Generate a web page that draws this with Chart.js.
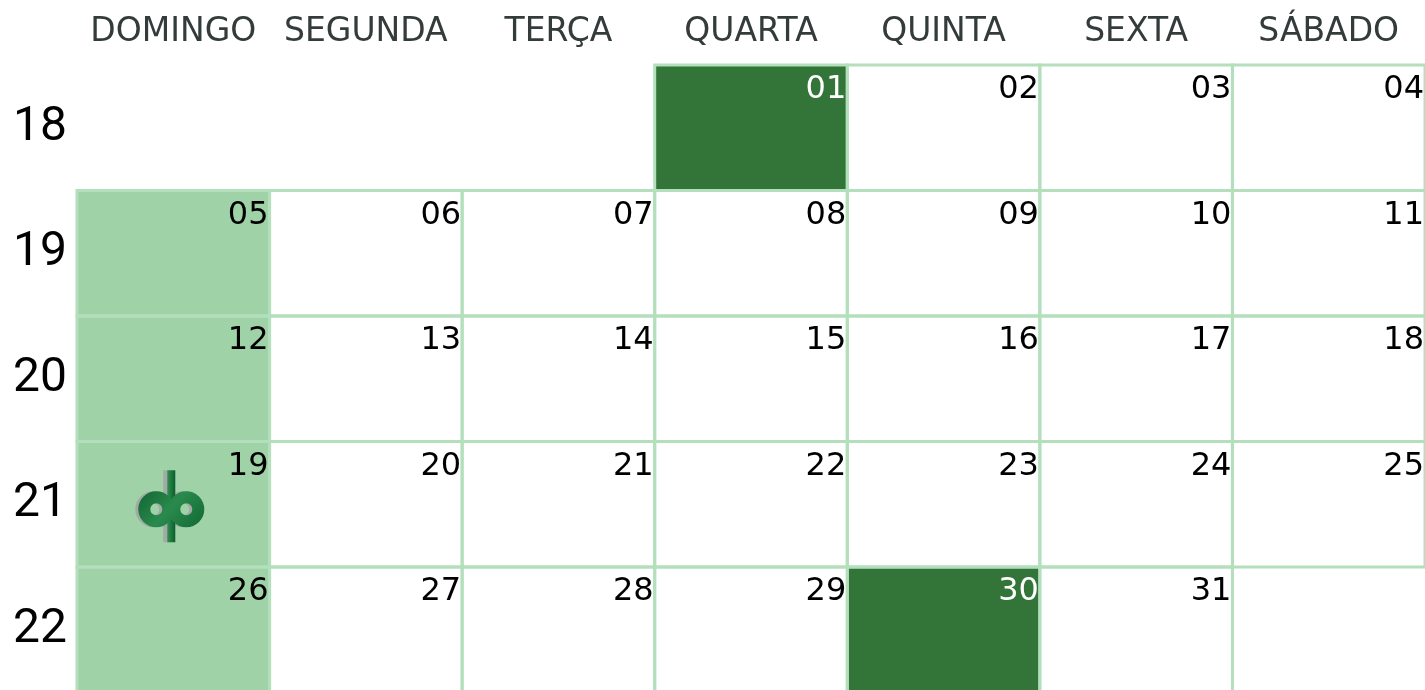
<!DOCTYPE html>
<html>
<head>
<meta charset="utf-8">
<script src="https://cdn.jsdelivr.net/npm/chart.js@4.4.0/dist/chart.umd.min.js"></script>
<style>
  html, body { margin: 0; padding: 0; background: #fff; }
  #wrap { width: 1425px; height: 690px; position: relative; }
</style>
</head>
<body>
<div id="wrap"><canvas id="cal"></canvas></div>
<script>
// calendar data
const weekdays = ['DOMINGO', 'SEGUNDA', 'TERÇA', 'QUARTA', 'QUINTA', 'SEXTA', 'SÁBADO'];
const weeks = ['18', '19', '20', '21', '22'];
const week18 = [null, null, null, '01', '02', '03', '04'];
const week19 = ['05', '06', '07', '08', '09', '10', '11'];
const week20 = ['12', '13', '14', '15', '16', '17', '18'];
const week21 = ['19', '20', '21', '22', '23', '24', '25'];
const week22 = ['26', '27', '28', '29', '30', '31', null];
const dayRows = [week18, week19, week20, week21, week22];
const highlightDays = ['01', '30'];
const logoDay = '19';

const DARK = '#337539';
const SUNDAY = '#a0d2a8';
const LINE = '#b4dfbc';

function cellColor(day, col) {
  if (highlightDays.includes(day)) return DARK;
  if (col === 0) return SUNDAY;
  return '#ffffff';
}

// little "dp" mark in the sunday cell
function drawLogo(ctx, cx, cy) {
  const stem = (dx, style) => {
    ctx.fillStyle = style;
    ctx.fillRect(cx - 4 + dx, cy - 36, 8, 72);
  };
  const rings = (dx, style) => {
    ctx.strokeStyle = style;
    ctx.lineWidth = 12;
    ctx.beginPath();
    ctx.arc(cx - 15 + dx, cy + 3, 12, 0, Math.PI * 2);
    ctx.stroke();
    ctx.beginPath();
    ctx.arc(cx + 15 + dx, cy + 3, 12, 0, Math.PI * 2);
    ctx.stroke();
  };
  stem(-4, '#a3a9a5');
  rings(-3, '#a3a9a5');
  const g = ctx.createLinearGradient(cx - 33, cy - 30, cx + 33, cy + 30);
  g.addColorStop(0, '#0a5a2b');
  g.addColorStop(0.5, '#2a8a4c');
  g.addColorStop(1, '#0c6332');
  const s = ctx.createLinearGradient(cx - 4, 0, cx + 4, 0);
  s.addColorStop(0, '#2f9150');
  s.addColorStop(1, '#0b5d2d');
  stem(0, s);
  rings(0, g);
}

const cellPlugin = {
  id: 'cells',
  afterDatasetsDraw(chart) {
    const ctx = chart.ctx;
    const cells = [];
    chart.data.datasets.forEach((ds, r) => {
      chart.getDatasetMeta(r).data.forEach((bar, c) => {
        const day = dayRows[r][c];
        if (!day) return;
        cells.push({
          day, c,
          left: bar.x - bar.width / 2,
          right: bar.x + bar.width / 2,
          top: Math.min(bar.y, bar.base),
          bottom: Math.max(bar.y, bar.base)
        });
      });
    });
    ctx.save();
    ctx.lineWidth = 3;
    ctx.strokeStyle = LINE;
    cells.forEach(k => ctx.strokeRect(k.left, k.top, k.right - k.left, k.bottom - k.top));
    ctx.font = '32px "DejaVu Sans"';
    ctx.textAlign = 'right';
    ctx.textBaseline = 'alphabetic';
    cells.forEach(k => {
      ctx.fillStyle = highlightDays.includes(k.day) ? '#ffffff' : '#000000';
      ctx.fillText(k.day, k.right - 1, k.top + 33);
      if (k.day === logoDay) drawLogo(ctx, (k.left + k.right) / 2 - 2, (k.top + k.bottom) / 2 + 2);
    });
    ctx.restore();
  }
};

new Chart(document.getElementById('cal'), {
  type: 'bar',
  data: {
    labels: weekdays,
    datasets: dayRows.map((row, r) => ({
      label: 'Semana ' + weeks[r],
      data: row.map(d => (d ? [r, r + 1] : null)),
      backgroundColor: row.map((d, c) => cellColor(d, c)),
      borderWidth: 0,
      grouped: false,
      categoryPercentage: 1,
      barPercentage: 1
    }))
  },
  options: {
    responsive: true,
    maintainAspectRatio: false,
    animation: false,
    layout: { padding: 0 },
    plugins: { legend: { display: false }, tooltip: { enabled: false } },
    scales: {
      x: {
        position: 'top',
        grid: { display: false },
        border: { display: false },
        ticks: {
          color: '#343b3b',
          font: { family: 'DejaVu Sans', size: 33 },
          padding: 5,
          maxRotation: 0,
          autoSkip: false
        },
        afterFit: axis => { axis.height = 65; axis.paddingLeft = 0; axis.paddingRight = 0; }
      },
      y: {
        type: 'linear',
        reverse: true,
        min: 0,
        max: 4.98,
        grid: { display: false },
        border: { display: false },
        afterBuildTicks: axis => { axis.ticks = weeks.map((w, i) => ({ value: i + 0.5 })); },
        ticks: {
          color: '#000000',
          font: { family: 'Roboto', size: 48 },
          padding: 2,
          callback: (v, i) => weeks[i]
        },
        afterFit: axis => { axis.width = 77; axis.paddingTop = 0; axis.paddingBottom = 0; }
      }
    }
  },
  plugins: [cellPlugin]
});
</script>
</body>
</html>
